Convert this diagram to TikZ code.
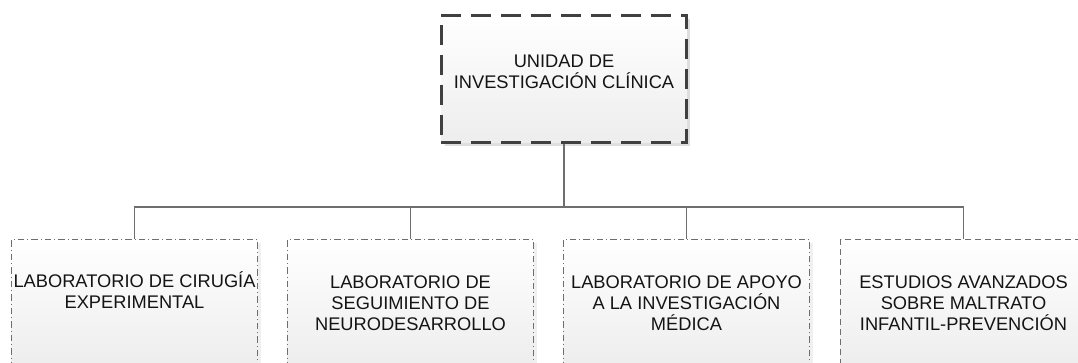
\documentclass[tikz,border=0pt]{standalone}
\usepackage{fontspec}
\setmainfont{Liberation Sans}
\usetikzlibrary{positioning,shadows}
\definecolor{borde}{RGB}{64,64,64}
\definecolor{linea}{RGB}{110,110,110}
\definecolor{texto}{RGB}{20,20,20}
\tikzset{
  % letra
  letra/.style={align=center, text=texto, font=\fontsize{10.4}{11.8}\selectfont},
  % caja base
  caja/.style={letra,
    rectangle,
    inner sep=0pt,
    minimum width=4.92cm,
    minimum height=2.56cm,
    top color=white,
    bottom color=gray!14
  },
  % caja principal
  jefe/.style={caja,
    draw=borde,
    line width=1.7pt,
    dash pattern=on 0.4cm off 0.2cm,
    drop shadow={shadow xshift=0.07cm, shadow yshift=-0.07cm, opacity=0.25}
  },
  % laboratorios
  labo/.style={caja,
    draw=linea,
    line width=0.5pt,
    dash pattern=on 0.13cm off 0.06cm on 0.02cm off 0.06cm,
    drop shadow={shadow xshift=0.07cm, shadow yshift=-0.07cm, opacity=0.12}
  },
  % estudios
  estu/.style={labo, dash pattern=on 0.12cm off 0.08cm},
  % conectores
  con/.style={draw=linea, line width=0.6pt},
}
\begin{document}
\begin{tikzpicture}[x=0.02cm, y=-0.02cm]
    \clip (0,0) rectangle (1078,362);

    % Unidad
    \node[jefe] (unidad) at (564,79) {};
    \node[letra] (unidadtxt) at ([yshift=0.14cm]unidad.center) {UNIDAD DE\\INVESTIGACIÓN CLÍNICA};

    % Laboratorios
    \node[labo] (lab1) at (134.5,303) {};
    \node[letra] (lab1txt) at ([yshift=0.26cm]lab1.center) {LABORATORIO DE CIRUGÍA\\EXPERIMENTAL};
    \node[labo] (lab2) at (410.5,303) {LABORATORIO DE\\SEGUIMIENTO DE\\NEURODESARROLLO};
    \node[labo] (lab3) at (686.5,303) {LABORATORIO DE APOYO\\A LA INVESTIGACIÓN\\MÉDICA};
    \node[estu] (lab4) at (963.5,303) {ESTUDIOS AVANZADOS\\SOBRE MALTRATO\\INFANTIL-PREVENCIÓN};

    % Conectores
    \coordinate (bus) at (564,207);
    \draw[con] (unidad.south) -- (bus);
    \foreach \n in {lab1,lab2,lab3,lab4}
        \draw[con] (bus) -| (\n.north);
\end{tikzpicture}
\end{document}
